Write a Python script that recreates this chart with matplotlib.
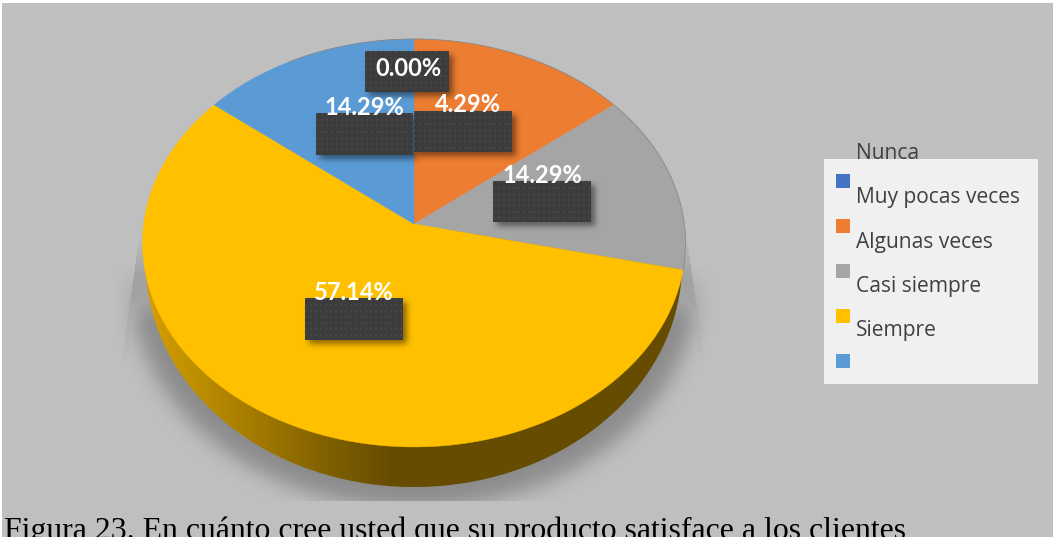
import numpy as np
import matplotlib
matplotlib.use("Agg")
import matplotlib.pyplot as plt
from matplotlib.colors import LinearSegmentedColormap
from matplotlib.patches import Polygon, Rectangle

# ---------------- DATA ----------------

categories = ["Nunca", "Muy pocas veces", "Algunas veces", "Casi siempre", "Siempre"]
shares = [0.00, 14.29, 14.29, 57.14, 14.29]
# label texts as printed on the chart, in the same order as the categories
share_labels = ["0.00%", "4.29%", "14.29%", "57.14%", "14.29%"]
caption = "Figura 23. En cuánto cree usted que su producto satisface a los clientes"

# ---------------- STYLE ----------------

W, H = 1055, 537
colors = ["#4472c4", "#ed7d31", "#a5a5a5", "#ffc000", "#5b9bd5"]
label_font = "Lato"
legend_font = "Open Sans"
legend_text = "#404040"
background = "#bfbfbf"

# label box corners (x0, y0, x1, y1) and text centre, in pixels
box_rects = [(365, 51, 449, 92), (414, 111, 512, 152), (493, 181, 591, 222),
             (305, 298, 403, 340), (316, 113, 413, 155)]
text_centres = [(408, 69), (468, 105), (542, 175.5), (354, 292), (364.5, 107.5)]

# pie in perspective: apex, half widths and foreshortening
apex_x, apex_y = 414, 224
pie_a, pie_b, pie_k = 270.3, 202.2, 0.0931


def rim_points(theta_deg):
    """Screen position of the rim for angles clockwise from twelve o'clock."""
    t = np.radians(theta_deg)
    sx, sy = np.sin(t), np.cos(t)
    d = 1 + pie_k * sy
    return apex_x + pie_a * sx / d, apex_y - pie_b * sy / d


def blur(img, sigma):
    r = int(3 * sigma)
    kernel = np.exp(-0.5 * (np.arange(-r, r + 1) / sigma) ** 2)
    kernel /= kernel.sum()
    img = np.apply_along_axis(lambda v: np.convolve(v, kernel, mode="same"), 0, img)
    return np.apply_along_axis(lambda v: np.convolve(v, kernel, mode="same"), 1, img)


fig = plt.figure(figsize=(W / 100, H / 100), dpi=100, facecolor="white")
ax = fig.add_axes([0, 0, 1, 1])
extent = (0, W, H, 0)

ax.add_patch(Rectangle((2, 3), W - 4, H - 3, fc=background, ec="none", zorder=0))

# ---------------- CAST SHADOW ----------------

yy, xx = np.mgrid[0:H, 0:W] + 0.5
cast = (((xx - 414) / 284) ** 2 + ((yy - 280) / 228) ** 2 < 1).astype(float)
cast = blur(cast, 10) * 0.27 * np.clip((yy - 265) / 60, 0, 1)

# narrow slivers running up the sides of the pie
left_edge = 136 - (yy - 260) * 0.14
right_edge = 690 + (yy - 260) * 0.14
fade = np.clip((yy - 235) / 40, 0, 1) * np.clip((365 - yy) / 70, 0, 1)
sliver = ((xx > left_edge) & (xx < right_edge)).astype(float) * fade * 0.15
cast = np.maximum(cast, sliver)
cast[yy > 501] = 0

shadow = np.zeros((H, W, 4))
shadow[..., 3] = cast
ax.imshow(shadow, extent=extent, aspect="auto", zorder=1, interpolation="bilinear")

# ---------------- SIDE WALL ----------------

wall_cmap = LinearSegmentedColormap.from_list(
    "wall",
    [(0.0, "#d6a000"), (0.10, "#bd8e00"), (0.22, "#a07800"),
     (0.34, "#806000"), (0.46, "#664c00"), (1.0, "#664c00")],
)
gradient = np.linspace(0, 1, 540).reshape(1, -1)
wall = ax.imshow(gradient, cmap=wall_cmap, extent=(142, 686, 500, 230),
                 aspect="auto", zorder=2)
t = np.radians(np.linspace(0, 360, 721))
wall_outline = np.column_stack((414 + 268 * np.cos(t), 264 + 223 * np.sin(t)))
wall_patch = Polygon(wall_outline, closed=True, fc="none", ec="none", zorder=2.1)
ax.add_patch(wall_patch)
wall.set_clip_path(wall_patch)

# ---------------- TOP FACE ----------------

start = 0.0
total = sum(shares)
for share, color in zip(shares, colors):
    sweep = share / total * 360
    if sweep > 0:
        angles = np.linspace(start, start + sweep, 200)
        rx, ry = rim_points(angles)
        pts = np.column_stack((np.r_[apex_x, rx], np.r_[apex_y, ry]))
        ax.add_patch(Polygon(pts, closed=True, fc=color, ec=color, lw=0.3, zorder=3))
    start += sweep

# thin grey line along the back of the rim
rx, ry = rim_points(np.linspace(-30, 103, 300))
ax.plot(rx, ry, color="#8a8a8a", lw=0.6, zorder=3.1)

# ---------------- DATA LABELS ----------------

box_mask = np.zeros((H, W))
for x0, y0, x1, y1 in box_rects:
    box_mask[y0 + 4:y1 + 4, x0 + 4:x1 + 4] = 1
box_shadow = np.zeros((H, W, 4))
box_shadow[..., 3] = blur(box_mask, 3) * 0.45
ax.imshow(box_shadow, extent=extent, aspect="auto", zorder=4, interpolation="bilinear")

for (x0, y0, x1, y1), label, (tx, ty) in zip(box_rects, share_labels, text_centres):
    # dark fill with a fine dotted texture
    by, bx = np.mgrid[0:y1 - y0, 0:x1 - x0]
    texture = 0.24 + 0.035 * ((bx % 5 < 2) & (by % 6 < 2))
    ax.imshow(texture, cmap="gray", vmin=0, vmax=1, extent=(x0, x1, y1, y0),
              aspect="auto", zorder=5, interpolation="bilinear")
    ax.text(tx, ty, label, color="white", fontsize=17, fontweight="bold",
            family=label_font, ha="center", va="center", zorder=6)

# ---------------- LEGEND ----------------

ax.add_patch(Rectangle((824, 159), 214, 225, fc="#f0f0f0", ec="none", zorder=5))
for i, (name, color) in enumerate(zip(categories, colors)):
    ax.add_patch(Rectangle((836, 174 + i * 45), 14, 14, fc=color, ec="none", zorder=6))
    ax.text(856, 159 + i * 44.3, name, color=legend_text, fontsize=15.1,
            family=legend_font, ha="left", va="baseline", zorder=6)

# ---------------- CAPTION ----------------

ax.text(4, 539, caption, color="black", fontsize=22.9, family="Liberation Serif",
        ha="left", va="baseline", zorder=6)

ax.set_xlim(0, W)
ax.set_ylim(H, 0)
ax.axis("off")

fig.savefig("out.png", dpi=100, facecolor="white")
